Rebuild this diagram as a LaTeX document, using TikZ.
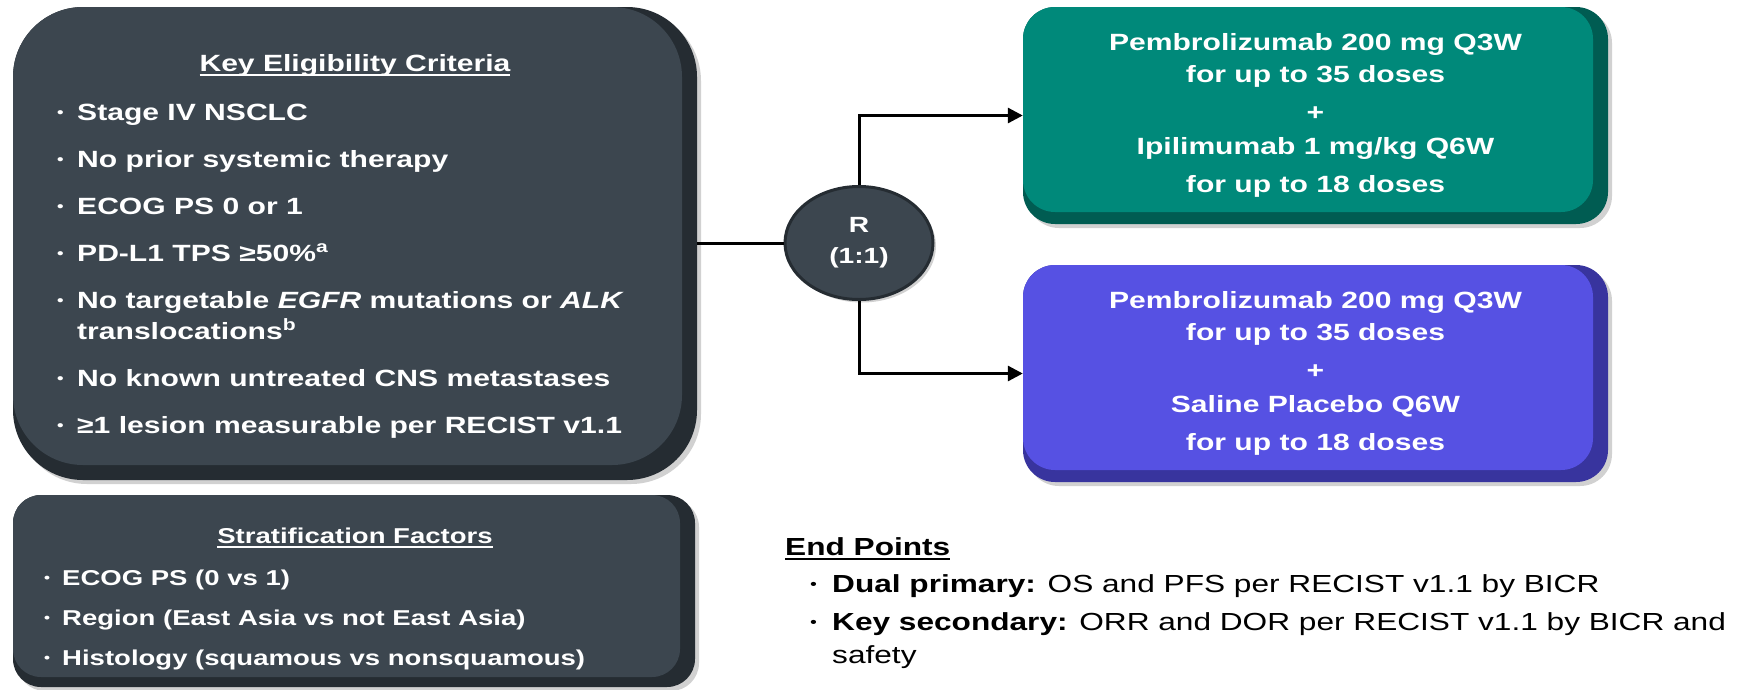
\documentclass[tikz,border=0pt]{standalone}
\usepackage{fontspec}
\setmainfont{Liberation Sans}[FakeStretch=1.28]
\usetikzlibrary{arrows.meta,shapes.geometric,shadows}

\definecolor{eligface}{HTML}{3C464F}
\definecolor{eligedge}{HTML}{252C32}
\definecolor{tealface}{HTML}{00897A}
\definecolor{tealedge}{HTML}{005C52}
\definecolor{purpface}{HTML}{5651E3}
\definecolor{purpedge}{HTML}{38349E}

% small bullet in a box of the given width
\newcommand{\bul}[1]{\makebox[#1][l]{\raisebox{0.13em}{\scalebox{0.62}{•}}}}
% underline drawn close to the baseline
\newcommand{\undl}[1]{\setbox0=\hbox{#1}\rlap{\rule[-5pt]{\wd0}{1.8pt}}\box0}

\begin{document}
\begin{tikzpicture}[x=1pt,y=-1pt,
  conn/.style={line width=3pt,draw=black},
  arr/.style={conn,-{Triangle[length=15pt,width=15pt]}},
  % rounded box with darker right and bottom edges
  bevelbox/.style n args={5}{rectangle,rounded corners=#3,fill=#2,draw=none,inner sep=0pt,
    drop shadow={shadow xshift=4pt,shadow yshift=-4pt,opacity=0.18,fill=black},
    path picture={\fill[#1,rounded corners=#3] (path picture bounding box.north west)
      rectangle ([xshift=-#4,yshift=#5]path picture bounding box.south east);}},
  wtext/.style={text=white,inner sep=0pt},
]
\fill[white] (0,0) rectangle (1746,689);
\useasboundingbox (0,0) rectangle (1746,689);

% eligibility criteria
\node[bevelbox={eligface}{eligedge}{70pt}{15pt}{15pt},
  minimum width=684pt,minimum height=473pt] (elig) at (355,243.5) {};
\node[wtext,anchor=base,font={\fontsize{23.5}{31}\selectfont\bfseries}]
  (eligtitle) at (355,71) {\undl{Key Eligibility Criteria}};
\node[wtext,anchor=north west,align=left,font={\fontsize{23.5}{31}\selectfont\bfseries}]
  (eliglist) at (57,103.5) {%
  \bul{20pt}Stage IV NSCLC\\[16pt]
  \bul{20pt}No prior systemic therapy\\[16pt]
  \bul{20pt}ECOG PS 0 or 1\\[16pt]
  \bul{20pt}PD-L1 TPS ≥50\%\textsuperscript{a}\\[16pt]
  \bul{20pt}No targetable \textit{EGFR} mutations or \textit{ALK}\\
  \hspace*{20pt}translocations\textsuperscript{b}\\[16pt]
  \bul{20pt}No known untreated CNS metastases\\[16pt]
  \bul{20pt}≥1 lesion measurable per RECIST v1.1};

% stratification factors
\node[bevelbox={eligface}{eligedge}{28pt}{15pt}{10pt},
  minimum width=682pt,minimum height=192pt] (strat) at (354,591) {};
\node[wtext,anchor=base,font={\fontsize{21.5}{40}\selectfont\bfseries}]
  (strattitle) at (355,543) {\undl{Stratification Factors}};
\node[wtext,anchor=north west,align=left,font={\fontsize{21.5}{40}\selectfont\bfseries}]
  (stratlist) at (44,569.5) {%
  \bul{18pt}ECOG PS (0 vs 1)\\
  \bul{18pt}Region (East Asia vs not East Asia)\\
  \bul{18pt}Histology (squamous vs nonsquamous)};

% treatment arms
\node[bevelbox={tealface}{tealedge}{32pt}{15pt}{12pt},wtext,align=center,
  minimum width=585pt,minimum height=217pt,
  font={\fontsize{23.5}{32}\selectfont\bfseries}] (teal) at (1315.5,115.5) {%
  Pembrolizumab 200 mg Q3W\\
  for up to 35 doses\\[6pt]
  +\\[2pt]
  Ipilimumab 1 mg/kg Q6W\\[6pt]
  for up to 18 doses};
\node[bevelbox={purpface}{purpedge}{32pt}{15pt}{12pt},wtext,align=center,
  minimum width=585pt,minimum height=217pt,
  font={\fontsize{23.5}{32}\selectfont\bfseries}] (purple) at (1315.5,373.5) {%
  Pembrolizumab 200 mg Q3W\\
  for up to 35 doses\\[6pt]
  +\\[2pt]
  Saline Placebo Q6W\\[6pt]
  for up to 18 doses};

% randomisation
\node[ellipse,minimum width=148pt,minimum height=113pt,inner sep=0pt,
  fill=eligface,draw=eligedge,line width=3pt,text=white,align=center,
  drop shadow={shadow xshift=3pt,shadow yshift=-3pt,opacity=0.18,fill=black},
  font={\fontsize{22}{31}\selectfont\bfseries}] (R) at (859,243) {R\\(1:1)};

\draw[conn] (R.west -| elig.east) -- (R.west);
\draw[arr] (R.north) |- (teal.west);
\draw[arr] (R.south) |- (purple.west);

% end points
\node[anchor=base west,inner sep=0pt,font={\fontsize{24.7}{33}\selectfont\bfseries}]
  (eptitle) at (785,555) {\undl{End Points}};
\node[anchor=north west,inner sep=0pt,align=left,font={\fontsize{24.7}{33}\selectfont}]
  (eplist) at (810,574.5) {%
  \bul{22pt}\textbf{Dual primary:} OS and PFS per RECIST v1.1 by BICR\\[5pt]
  \bul{22pt}\textbf{Key secondary:} ORR and DOR per RECIST v1.1 by BICR and\\
  \hspace*{22pt}safety};
\end{tikzpicture}
\end{document}
